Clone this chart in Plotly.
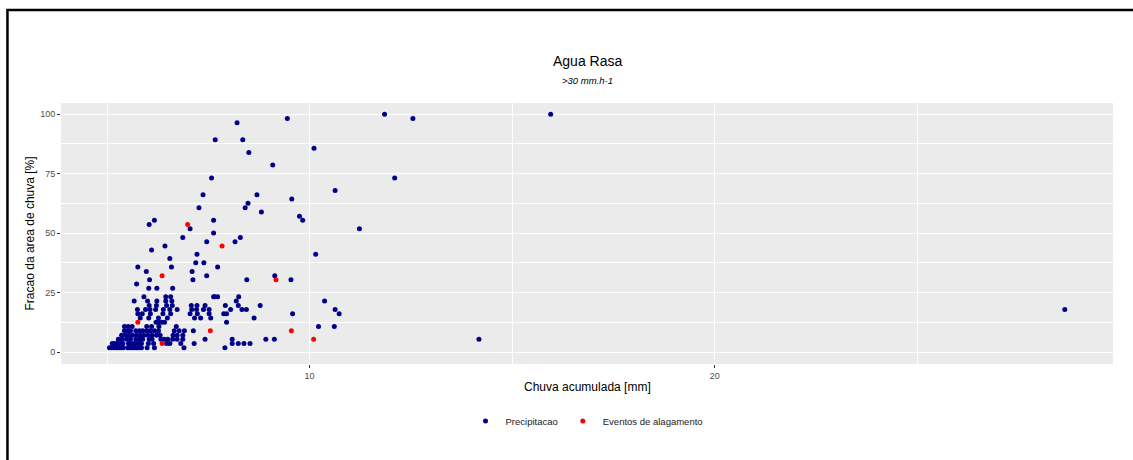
import plotly.graph_objects as go

# Precipitation events: accumulated rain [mm] vs. fraction of rain area [%]
precip_x = [
    5.06, 5.11, 5.17, 5.24, 5.30, 5.35, 5.40, 5.51, 5.57, 5.62, 5.68, 5.74, 5.80, 5.85, 5.99, 6.17, 6.90, 7.91,
    5.13, 5.19, 5.25, 5.32, 5.39, 5.53, 5.58, 5.65, 5.71, 5.78, 5.85, 6.02, 6.15, 6.47, 6.55, 6.82, 7.15, 8.09, 8.24, 8.38, 8.53,
    5.28, 5.37, 5.48, 5.58, 5.71, 5.80, 5.88, 6.04, 6.11, 6.33, 6.41, 6.50, 6.62, 6.73, 6.87, 7.42, 8.09, 8.92, 9.13, 14.18,
    5.36, 5.45, 5.54, 5.63, 5.73, 5.82, 5.91, 6.01, 6.11, 6.22, 6.31, 6.63, 6.73, 6.87,
    5.43, 5.52, 5.58, 5.71, 5.80, 5.88, 5.98, 6.07, 6.17, 6.27, 6.66, 6.78, 6.91, 7.13,
    5.43, 5.52, 5.62, 5.98, 6.10, 6.28, 6.71, 10.22, 10.61,
    6.21, 6.27, 6.35, 6.42, 7.95,
    5.82, 6.03, 6.27, 6.49, 7.16, 7.31, 7.56, 8.63,
    5.76, 5.87, 6.07, 6.38, 6.57, 7.05, 7.23, 7.52, 7.88, 7.95, 9.58, 10.73,
    5.75, 5.95, 6.06, 6.20, 6.39, 6.55, 6.73, 7.09, 7.21, 7.38, 7.52, 8.05, 8.33, 8.44, 10.63, 28.64,
    6.04, 6.22, 6.47, 6.61, 7.08, 7.22, 7.42, 7.92, 8.24, 8.78,
    5.67, 6.00, 6.23, 6.45, 6.60, 8.19, 10.37,
    5.91, 6.45, 6.57, 7.63, 7.66, 7.73, 8.25,
    6.03, 6.23, 6.62,
    5.73,
    6.05, 7.12, 8.45, 9.54,
    7.46, 9.14,
    5.97, 7.10,
    5.76, 6.59, 7.73,
    7.19, 7.39,
    6.55,
    7.22, 10.15,
    6.10,
    6.43,
    7.46, 8.16,
    6.87, 8.29,
    7.63,
    7.05, 11.23,
    6.04,
    6.17, 7.63, 9.83,
    9.75,
    8.81,
    7.27, 8.41,
    8.48,
    9.56,
    7.37, 8.70,
    10.63,
    7.58, 12.10,
    9.09,
    8.50,
    10.11,
    7.67, 8.35,
    8.21,
    9.45, 12.55,
    11.85, 15.95,
]
precip_y = (
    [1.8] * 18 + [3.6] * 21 + [5.4] * 20 + [7.1] * 14 + [8.9] * 14 + [10.7] * 9
    + [12.5] * 5 + [14.3] * 8 + [16.1] * 12 + [17.9] * 16 + [19.6] * 10 + [21.4] * 7
    + [23.2] * 7 + [26.8] * 3 + [28.6] * 1 + [30.4] * 4 + [32.1] * 2 + [33.9] * 2
    + [35.7] * 3 + [37.5] * 2 + [39.3] * 1 + [41.1] * 2 + [42.9] * 1 + [44.6] * 1
    + [46.4] * 2 + [48.2] * 2 + [50.0] * 1 + [51.8] * 2 + [53.6] * 1 + [55.4] * 3
    + [57.1] * 1 + [58.9] * 1 + [60.7] * 2 + [62.5] * 1 + [64.3] * 1 + [66.1] * 2
    + [67.9] * 1 + [73.2] * 2 + [78.6] * 1 + [83.9] * 1 + [85.7] * 1 + [89.3] * 2
    + [96.4] * 1 + [98.2] * 2 + [100.0] * 2
)

# Flooding events (alagamento)
flood_x = [6.36, 10.10, 7.55, 9.55, 5.76, 6.36, 9.17, 7.84, 6.99]
flood_y = [3.6, 5.4, 8.9, 8.9, 12.5, 32.1, 30.4, 44.6, 53.6]
# flooding event lying underneath the precipitation cloud
flood_under_x = [5.24]
flood_under_y = [1.8]

x_ticks = [10, 20]
y_ticks = [0, 25, 50, 75, 100]

NAVY = "#00008B"
RED = "#FF0000"
FONT = "Liberation Sans, Arial, sans-serif"
MSIZE = 5

fig = go.Figure()
fig.add_trace(go.Scatter(
    x=flood_under_x, y=flood_under_y, mode="markers", showlegend=False,
    marker=dict(color=RED, size=MSIZE), hoverinfo="x+y",
))
fig.add_trace(go.Scatter(
    x=precip_x, y=precip_y, mode="markers", name="Precipitacao",
    marker=dict(color=NAVY, size=MSIZE),
))
fig.add_trace(go.Scatter(
    x=flood_x, y=flood_y, mode="markers", name="Eventos de alagamento",
    marker=dict(color=RED, size=MSIZE),
))

axis_common = dict(
    showline=False, zeroline=False, ticks="outside", ticklen=3, tickwidth=1,
    tickcolor="#333333", gridcolor="white", gridwidth=1.3,
    tickfont=dict(family=FONT, size=9, color="#4D4D4D"),
)

fig.update_layout(
    width=1133, height=460, autosize=False,
    margin=dict(l=61, r=20, t=103, b=96),
    paper_bgcolor="white", plot_bgcolor="#EBEBEB",
    font=dict(family=FONT, color="#1A1A1A"),
    xaxis=dict(
        range=[3.864, 29.83], tickmode="array", tickvals=x_ticks,
        ticktext=[str(v) for v in x_ticks],
        minor=dict(tickmode="array", tickvals=[5, 15, 25], showgrid=True,
                   gridcolor="white", gridwidth=0.6, ticks=""),
        **axis_common,
    ),
    yaxis=dict(
        range=[-5.04, 104.7], tickmode="array", tickvals=y_ticks,
        ticktext=[str(v) for v in y_ticks],
        minor=dict(tickmode="array", tickvals=[12.5, 37.5, 62.5, 87.5], showgrid=True,
                   gridcolor="white", gridwidth=0.6, ticks=""),
        **axis_common,
    ),
    showlegend=True,
    legend=dict(
        orientation="h", x=0.5, xanchor="center", y=-0.218, yanchor="middle",
        font=dict(family=FONT, size=9.5, color="#1A1A1A"),
        itemwidth=30, bgcolor="rgba(0,0,0,0)",
    ),
    annotations=[
        dict(text="Agua Rasa", x=0.5, y=1.161, xref="paper", yref="paper",
             showarrow=False, xanchor="center", yanchor="middle",
             font=dict(family=FONT, size=14, color="#000000")),
        dict(text="<i>>30 mm.h-1</i>", x=0.5, y=1.088, xref="paper", yref="paper",
             showarrow=False, xanchor="center", yanchor="middle",
             font=dict(family=FONT, size=9.5, color="#000000")),
        dict(text="Chuva acumulada [mm]", x=0.5, y=-0.088, xref="paper", yref="paper",
             showarrow=False, xanchor="center", yanchor="middle",
             font=dict(family=FONT, size=12, color="#000000")),
        dict(text="Fracao da area de chuva [%]", x=-0.0295, y=0.5, xref="paper", yref="paper",
             showarrow=False, xanchor="center", yanchor="middle", textangle=-90,
             font=dict(family=FONT, size=12, color="#000000")),
    ],
    shapes=[
        # outer frame of the figure
        dict(type="rect", xref="paper", yref="paper",
             x0=-0.0509, x1=1.03, y0=-0.45, y1=1.356,
             line=dict(color="black", width=2.5), fillcolor="rgba(0,0,0,0)",
             layer="above"),
    ],
)

fig.write_html("out.html")
